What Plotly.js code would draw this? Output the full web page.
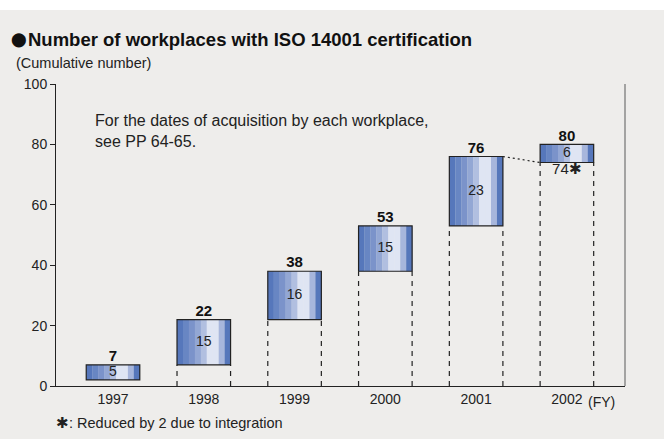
<!DOCTYPE html>
<html><head><meta charset="utf-8">
<script src="https://cdn.plot.ly/plotly-3.0.1.min.js"></script>
<style>html,body{margin:0;padding:0;background:#eeedeb;}</style>
</head><body>
<div id="chart" style="width:664px;height:439px;"></div>
<script>
const years = ["1997", "1998", "1999", "2000", "2001", "2002"];
const increments = [5, 15, 16, 15, 23, 6];
const totals = [7, 22, 38, 53, 76, 80];
const bases = [2, 7, 22, 38, 53, 74];
const stripeColors = ["#5677bb", "#6886c3", "#7b93ca", "#93a7d4", "#b1bfe0", "#dfe5f3", "#dfe5f3", "#a7b6dc", "#5677bb"];

const FONT = "Liberation Sans, Arial, Helvetica, sans-serif";
const idx = years.map((_, i) => i);
const barW = 0.59;
const sw = barW / stripeColors.length;
const traces = [];

stripeColors.forEach((c, k) => {
  traces.push({
    type: "bar", x: idx, y: increments, base: bases,
    width: idx.map(() => sw + 0.002), offset: idx.map(() => -barW / 2 + k * sw),
    marker: {color: c, line: {width: 0}}, hoverinfo: "skip", showlegend: false
  });
});
// outline
traces.push({
  type: "bar", x: idx, y: increments, base: bases,
  width: idx.map(() => barW), offset: idx.map(() => -barW / 2),
  marker: {color: "rgba(0,0,0,0)", line: {color: "#222", width: 1.2}},
  hoverinfo: "skip", showlegend: false
});
// dashed supports
idx.forEach(i => {
  if (i === 0) return;
  [-barW / 2, barW / 2].forEach(d => {
    traces.push({
      type: "scatter", mode: "lines", x: [i + d, i + d], y: [0, bases[i]],
      line: {color: "#222", width: 1.2, dash: "5px,5px"}, hoverinfo: "skip", showlegend: false
    });
  });
});
// dotted connector 2001 -> 2002
traces.push({
  type: "scatter", mode: "lines", x: [4 + barW / 2, 5 - barW / 2], y: [totals[4], bases[5]],
  line: {color: "#222", width: 1.2, dash: "2px,3px"}, hoverinfo: "skip", showlegend: false
});
// totals
traces.push({
  type: "scatter", mode: "text", x: idx, y: totals, text: totals.map(String),
  textposition: "top center", textfont: {family: FONT, size: 15, color: "#111", weight: "bold"},
  hoverinfo: "skip", showlegend: false
});
// increments
traces.push({
  type: "scatter", mode: "text", x: idx, y: idx.map(i => bases[i] + increments[i] / 2),
  text: increments.map(String), textposition: "middle center",
  textfont: {family: FONT, size: 14, color: "#222"}, hoverinfo: "skip", showlegend: false
});
// 74*
traces.push({
  type: "scatter", mode: "text", x: [5], y: [bases[5]], text: [bases[5] + "✱"],
  textposition: "bottom center", textfont: {family: FONT, size: 15, color: "#222"},
  hoverinfo: "skip", showlegend: false
});

const layout = {
  width: 664, height: 439,
  margin: {l: 56, r: 39, t: 84, b: 53},
  paper_bgcolor: "#eeedeb", plot_bgcolor: "rgba(0,0,0,0)",
  barmode: "overlay",
  font: {family: FONT, color: "#222"},
  xaxis: {
    range: [-0.628, 5.64], tickvals: idx, ticktext: years, showgrid: false, zeroline: false,
    showline: true, linecolor: "#222", linewidth: 1, ticks: "",
    tickfont: {family: FONT, size: 14, color: "#222"}, fixedrange: true
  },
  yaxis: {
    range: [0, 100], tickvals: [0, 20, 40, 60, 80, 100], showgrid: false, zeroline: false,
    showline: true, linecolor: "#222", linewidth: 1, ticks: "outside", ticklen: 5, tickcolor: "#222",
    tickfont: {family: FONT, size: 14, color: "#222"}, fixedrange: true
  },
  shapes: [
    {type: "rect", xref: "paper", yref: "paper", x0: -0.2, x1: 1.2, y0: 1 + 74 / 302, y1: 1 + 84 / 302,
     fillcolor: "#ffffff", line: {width: 0}, layer: "below"},
    {type: "line", xref: "paper", yref: "paper", x0: 1, x1: 1, y0: 0, y1: 1,
     line: {color: "#8a8a8a", width: 1.5}}
  ],
  annotations: [
    {xref: "paper", yref: "paper", x: -47 / 569, y: 1 + 44 / 302, xanchor: "left", yanchor: "middle",
     text: "⬤", showarrow: false, font: {family: "DejaVu Sans", size: 14, color: "#111"}},
    {xref: "paper", yref: "paper", x: -30 / 569, y: 1 + 44 / 302, xanchor: "left", yanchor: "middle",
     text: "<b>Number of workplaces with ISO 14001 certification</b>", showarrow: false,
     font: {family: FONT, size: 18.5, color: "#111"}},
    {xref: "paper", yref: "paper", x: -42 / 569, y: 1 + 21 / 302, xanchor: "left", yanchor: "middle",
     text: "(Cumulative number)", showarrow: false, font: {family: FONT, size: 14.5, color: "#222"}},
    {xref: "paper", yref: "paper", x: 37 / 569, y: 1 - 26 / 302, xanchor: "left", yanchor: "top", align: "left",
     text: "For the dates of acquisition by each workplace,<br>see PP 64-65.", showarrow: false,
     font: {family: FONT, size: 16, color: "#222"}},
    {xref: "x", yref: "paper", x: 5 + 0.21, y: -16 / 302, xanchor: "left", yanchor: "middle",
     text: "(FY)", showarrow: false, font: {family: FONT, size: 14, color: "#222"}},
    {xref: "paper", yref: "paper", x: -2 / 569, y: -37 / 302, xanchor: "left", yanchor: "middle",
     text: "✱: Reduced by 2 due to integration", showarrow: false, font: {family: FONT, size: 14.5, color: "#222"}}
  ]
};
Plotly.newPlot("chart", traces, layout, {displayModeBar: false, staticPlot: true});
</script>
</body></html>
